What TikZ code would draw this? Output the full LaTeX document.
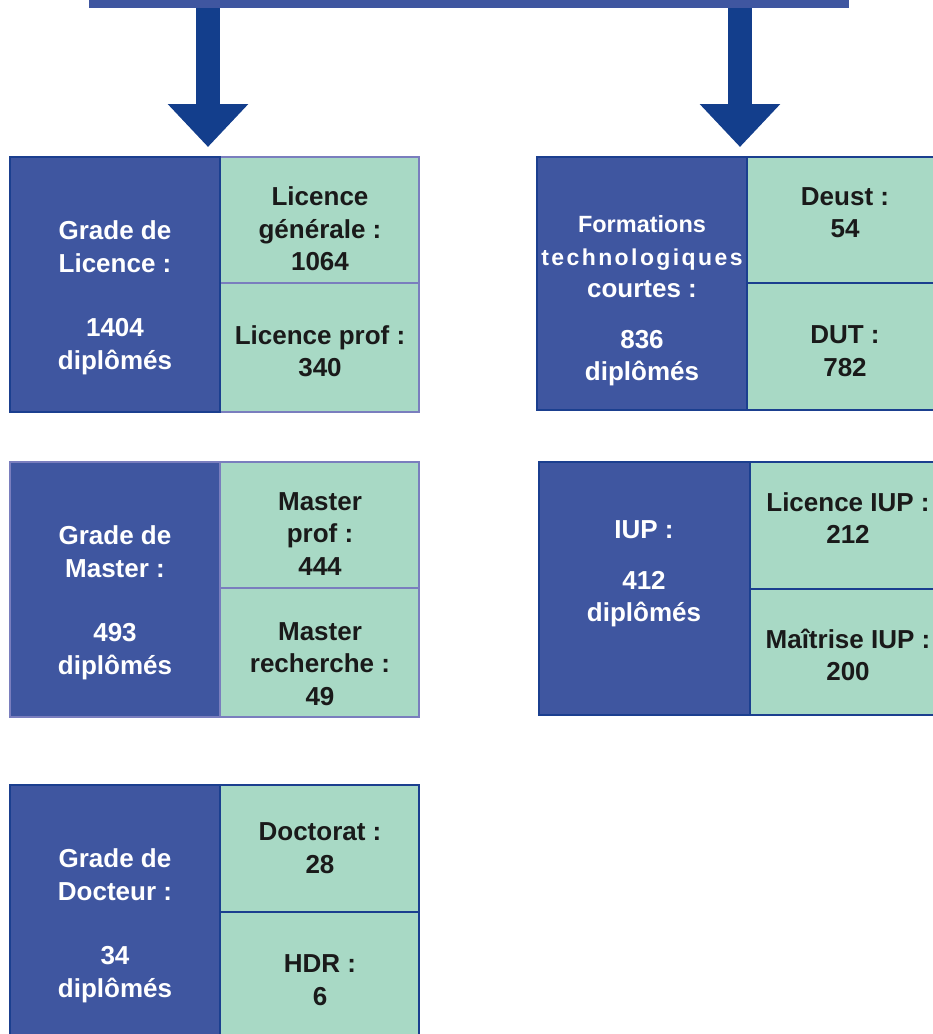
\documentclass[tikz,border=0pt]{standalone}
\usepackage{fontspec}
\setmainfont{Liberation Sans}
\newfontfamily\spacedfont[LetterSpace=10.5]{Liberation Sans}
\usetikzlibrary{arrows.meta}
\definecolor{fillblue}{HTML}{3F56A0}
\definecolor{borderdark}{HTML}{1B3F8F}
\definecolor{arrowblue}{HTML}{133E8C}
\definecolor{mint}{HTML}{A8D9C5}
\definecolor{lavender}{HTML}{7A7EBE}
\definecolor{inkdark}{HTML}{1A1A1A}
\tikzset{
  darkbox/.style={draw=borderdark, fill=fillblue, line width=2.5pt, anchor=north west, inner sep=0pt, outer sep=0pt},
  greenbox/.style={draw=borderdark, fill=mint, line width=2.5pt, anchor=north west, inner sep=0pt, outer sep=0pt},
  lavdark/.style={darkbox, draw=lavender},
  lavgreen/.style={greenbox, draw=lavender},
  wtext/.style={text=white, align=center, inner sep=0pt, yshift=-3pt, font=\fontsize{26}{32.5}\selectfont\bfseries},
  ktext/.style={text=inkdark, align=center, inner sep=0pt, yshift=-2pt, font=\fontsize{26}{32.5}\selectfont\bfseries},
  bigarrow/.style={draw=arrowblue, line width=24pt, -{Triangle[width=78pt,length=43pt,fill=arrowblue]}}
}
\begin{document}
\begin{tikzpicture}[x=1pt,y=-1pt]
\useasboundingbox (0,0) rectangle (933,1034);
\clip (0,0) rectangle (933,1034);
% top bar
\node[fill=fillblue, anchor=north west, minimum width=760pt, minimum height=9pt, inner sep=0pt] (bar) at (89,-1) {};
\coordinate (a1s) at (208,8);
\coordinate (a1e) at (208,147);
\coordinate (a2s) at (740,8);
\coordinate (a2e) at (740,147);
\draw[bigarrow] (a1s) -- (a1e);
\draw[bigarrow] (a2s) -- (a2e);

% Licence block
\node[lavgreen, minimum width=199pt, minimum height=126pt] (licgen) at (220,157) {};
\node[lavgreen, minimum width=199pt, minimum height=129pt] (licpro) at (220,283) {};
\node[darkbox, minimum width=210pt, minimum height=255pt] (lic) at (10,157) {};
\node[wtext] (licT) at (115,295) {Grade de\\Licence :\\[32pt]1404\\diplômés};
\node[ktext] (licgenT) at (320,227) {Licence\\générale :\\1064};
\node[ktext] (licproT) at (320,349) {Licence prof :\\340};

% Formations technologiques
\node[greenbox, minimum width=200pt, minimum height=126pt] (deust) at (747,157) {};
\node[greenbox, minimum width=200pt, minimum height=127pt] (dut) at (747,283) {};
\node[darkbox, minimum width=210pt, minimum height=253pt] (form) at (537,157) {};
\node[wtext] (formT) at (642,298) {{\fontsize{23.5}{31}\selectfont Formations}\\{\spacedfont\fontsize{23}{31}\selectfont technologiques}\\courtes :\\[18pt]836\\diplômés};
\node[ktext] (deustT) at (845,210.5) {Deust :\\54};
\node[ktext] (dutT) at (845,349) {DUT :\\782};

% Master block
\node[lavgreen, minimum width=199pt, minimum height=126pt] (mpro) at (220,462) {};
\node[lavgreen, minimum width=199pt, minimum height=129pt] (mrech) at (220,588) {};
\node[lavdark, minimum width=210pt, minimum height=255pt] (mast) at (10,462) {};
\node[wtext] (mastT) at (115,600) {Grade de\\Master :\\[32pt]493\\diplômés};
\node[ktext] (mproT) at (320,532) {Master\\prof :\\444};
\node[ktext] (mrechT) at (320,662) {Master\\recherche :\\49};

% IUP block
\node[greenbox, minimum width=200pt, minimum height=127pt] (liup) at (750,462) {};
\node[greenbox, minimum width=200pt, minimum height=126pt] (miup) at (750,589) {};
\node[darkbox, minimum width=211pt, minimum height=253pt] (iup) at (539,462) {};
\node[wtext] (iupT) at (644,571) {IUP :\\[18pt]412\\diplômés};
\node[ktext] (liupT) at (848,516) {Licence IUP :\\212};
\node[ktext] (miupT) at (848,653) {Maîtrise IUP :\\200};

% Docteur block
\node[greenbox, minimum width=199pt, minimum height=127pt] (doct) at (220,785) {};
\node[greenbox, minimum width=199pt, minimum height=140pt] (hdr) at (220,912) {};
\node[darkbox, minimum width=210pt, minimum height=267pt] (doc) at (10,785) {};
\node[wtext] (docT) at (115,923) {Grade de\\Docteur :\\[32pt]34\\diplômés};
\node[ktext] (doctT) at (320,846) {Doctorat :\\28};
\node[ktext] (hdrT) at (320,978) {HDR :\\6};
\end{tikzpicture}
\end{document}
